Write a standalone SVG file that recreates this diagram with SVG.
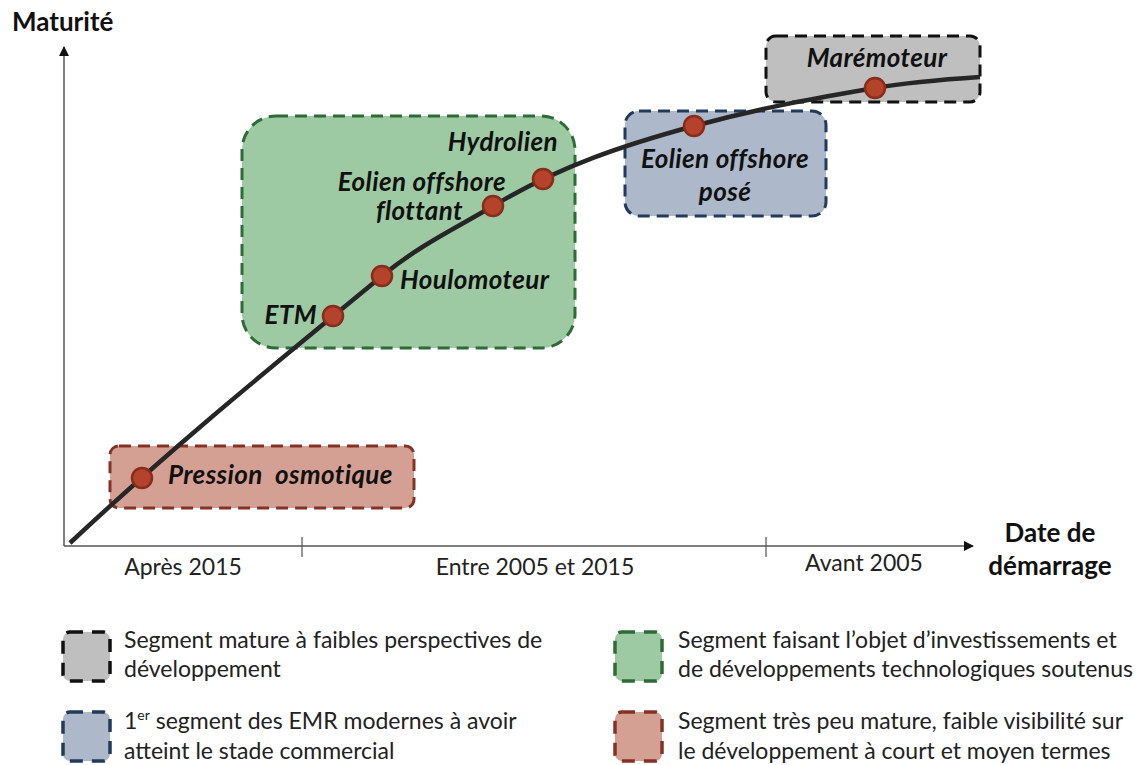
<svg xmlns="http://www.w3.org/2000/svg" width="1142" height="765" viewBox="0 0 1142 765">
<style>
.box{stroke-width:3;stroke-dasharray:12 7}
.lg{stroke-width:3.5;stroke-dasharray:13 9}
.gray{fill:#bfbfbf;stroke:#111}
.blue{fill:#adb9ca;stroke:#233a5a}
.green{fill:#9ecaa3;stroke:#2f6b37}
.red{fill:#d4a093;stroke:#843226}
.lab{font-family:Lato,"Liberation Sans",sans-serif;font-weight:bold;font-style:italic;font-size:26px;letter-spacing:0.4px;fill:#111}
.ax{font-family:Lato,"Liberation Sans",sans-serif;font-size:23px;fill:#222}
.tt{font-family:Lato,"Liberation Sans",sans-serif;font-weight:bold;font-size:26px;fill:#111}
.leg{font-family:Lato,"Liberation Sans",sans-serif;font-size:23px;fill:#222}
.dot{fill:#b3432b;stroke:#8a2c1c;stroke-width:2.5}
</style>
<defs>
<marker id="arr" markerWidth="10" markerHeight="10" refX="9" refY="5" orient="auto" markerUnits="userSpaceOnUse">
<path d="M0,0 L10,5 L0,10 z" fill="#111"/>
</marker>
</defs>

<g id="axes">
<line x1="64" y1="546" x2="64" y2="47" stroke="#555" stroke-width="1.5" marker-end="url(#arr)"/>
<line x1="64" y1="546" x2="973" y2="546" stroke="#555" stroke-width="1.5" marker-end="url(#arr)"/>
<line x1="302" y1="537" x2="302" y2="557" stroke="#555" stroke-width="1.2"/>
<line x1="766" y1="537" x2="766" y2="557" stroke="#555" stroke-width="1.2"/>
<text class="tt" x="12" y="31">Maturité</text>
<text class="tt" x="1050" y="542" text-anchor="middle">Date de</text>
<text class="tt" x="1050" y="575" text-anchor="middle">démarrage</text>
<text class="ax" x="183" y="575" text-anchor="middle">Après 2015</text>
<text class="ax" x="535" y="575" text-anchor="middle">Entre 2005 et 2015</text>
<text class="ax" x="864" y="571" text-anchor="middle">Avant 2005</text>
</g>

<g id="seg-gray"><rect class="box gray" x="766" y="36" width="214" height="66" rx="10"/></g>
<g id="seg-blue"><rect class="box blue" x="625" y="111" width="201" height="105" rx="14"/></g>
<g id="seg-green"><rect class="box green" x="242" y="116" width="333" height="232" rx="34"/></g>
<g id="seg-red"><rect class="box red" x="110" y="446" width="304" height="62" rx="9"/></g>

<g id="connectors">
<path d="M70,543 C180,440 280,360 382,276 C420,244.7 455,228.8 493,206 C560,166 624,145 694,126 C764,107 820,97.4 875,88 C910,82 950,79 980,77" fill="none" stroke="#262626" stroke-width="4.5"/>
</g>

<g id="node-pression"><circle class="dot" cx="142" cy="478" r="10"/><text class="lab" x="168" y="484" style="white-space:pre">Pression  osmotique</text></g>
<g id="node-etm"><circle class="dot" cx="333" cy="316" r="10"/><text class="lab" x="317" y="324" text-anchor="end">ETM</text></g>
<g id="node-houlo"><circle class="dot" cx="382" cy="276" r="10"/><text class="lab" x="400" y="289">Houlomoteur</text></g>
<g id="node-flottant"><circle class="dot" cx="493" cy="206" r="10"/><text class="lab" x="506" y="191" text-anchor="end">Eolien offshore</text><text class="lab" x="463" y="220" text-anchor="end">flottant</text></g>
<g id="node-hydro"><circle class="dot" cx="543" cy="179" r="10"/><text class="lab" x="558" y="151" text-anchor="end">Hydrolien</text></g>
<g id="node-pose"><circle class="dot" cx="694" cy="126" r="10"/><text class="lab" x="725" y="168" text-anchor="middle">Eolien offshore</text><text class="lab" x="725" y="201" text-anchor="middle">posé</text></g>
<g id="node-maremo"><circle class="dot" cx="875" cy="88" r="10"/><text class="lab" x="877" y="67" text-anchor="middle">Marémoteur</text></g>

<g id="legend-gray"><rect class="lg gray" x="63" y="632" width="47" height="49" rx="7"/><text class="leg" x="124" y="648">Segment mature à faibles perspectives de</text><text class="leg" x="124" y="677">développement</text></g>
<g id="legend-blue"><rect class="lg blue" x="63" y="712" width="47" height="49" rx="7"/><text class="leg" x="124" y="729">1<tspan font-size="14" dy="-9">er</tspan><tspan dy="9"> segment des EMR modernes à avoir</tspan></text><text class="leg" x="124" y="759">atteint le stade commercial</text></g>
<g id="legend-green"><rect class="lg green" x="615" y="632" width="47" height="49" rx="7"/><text class="leg" x="678" y="648">Segment faisant l’objet d’investissements et</text><text class="leg" x="678" y="677">de développements technologiques soutenus</text></g>
<g id="legend-red"><rect class="lg red" x="615" y="712" width="47" height="49" rx="7"/><text class="leg" x="678" y="729">Segment très peu mature, faible visibilité sur</text><text class="leg" x="678" y="759">le développement à court et moyen termes</text></g>
</svg>
